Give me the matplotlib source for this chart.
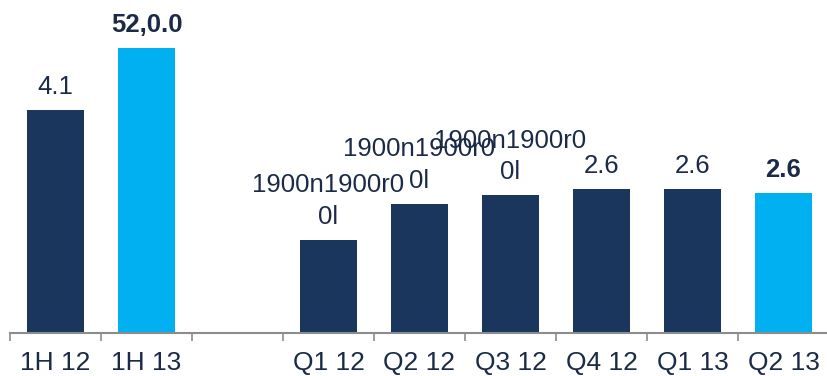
import numpy as np
import matplotlib.pyplot as plt

plt.rcParams['font.family'] = ['Liberation Sans', 'DejaVu Sans']

# half-year and quarterly figures; the empty slot separates the two groups
categories = ["1H 12", "1H 13", "", "Q1 12", "Q2 12", "Q3 12", "Q4 12", "Q1 13", "Q2 13"]
values = [4.1, 5.24, np.nan, 1.71, 2.37, 2.53, 2.64, 2.65, 2.57]
bar_labels = [None, "52,0.0", None, "1900n1900r0\n0l", "1900n1900r0\n0l",
              "1900n1900r0\n0l", None, None, None]
highlight = [False, True, False, False, False, False, False, False, True]

navy = "#1a365c"
cyan = "#00b0f0"
text_col = "#1b2b47"

fig = plt.figure(figsize=(8.27, 3.76), dpi=100)
ax = fig.add_axes([10 / 827, 43 / 376, 819 / 827, 333 / 376])

x = np.arange(len(categories))
colors = [cyan if h else navy for h in highlight]
bars = ax.bar(x, np.nan_to_num(values), width=0.626, color=colors, zorder=2)

for xi, v, lab, h in zip(x, values, bar_labels, highlight):
    if np.isnan(v):
        continue
    txt = lab if lab is not None else f"{v:.1f}"
    ax.annotate(txt, (xi, v), xytext=(0, 8), textcoords="offset points",
                ha="center", va="bottom", fontsize=18.5, color=text_col,
                fontweight="bold" if h else "normal", linespacing=1.4)

ax.set_xlim(-0.5, 8.5)
ax.set_ylim(0, 333 / 54.4)

# boundary ticks between categories, labels sit in the middle
ax.set_xticks(np.arange(-0.5, 8.5, 1.0))
ax.set_xticklabels([])
ax.set_xticks(x, minor=True)
ax.set_xticklabels(categories, minor=True, fontsize=19, color=text_col)
ax.tick_params(axis="x", which="major", length=6, width=1.2, color="#8c8c8c", direction="out")
ax.tick_params(axis="x", which="minor", length=0, pad=13)
ax.set_yticks([])

for side in ["top", "right", "left"]:
    ax.spines[side].set_visible(False)
ax.spines["bottom"].set_color("#8c8c8c")
ax.spines["bottom"].set_linewidth(1.5)
ax.patch.set_visible(False)

fig.savefig("out.png", dpi=100)
